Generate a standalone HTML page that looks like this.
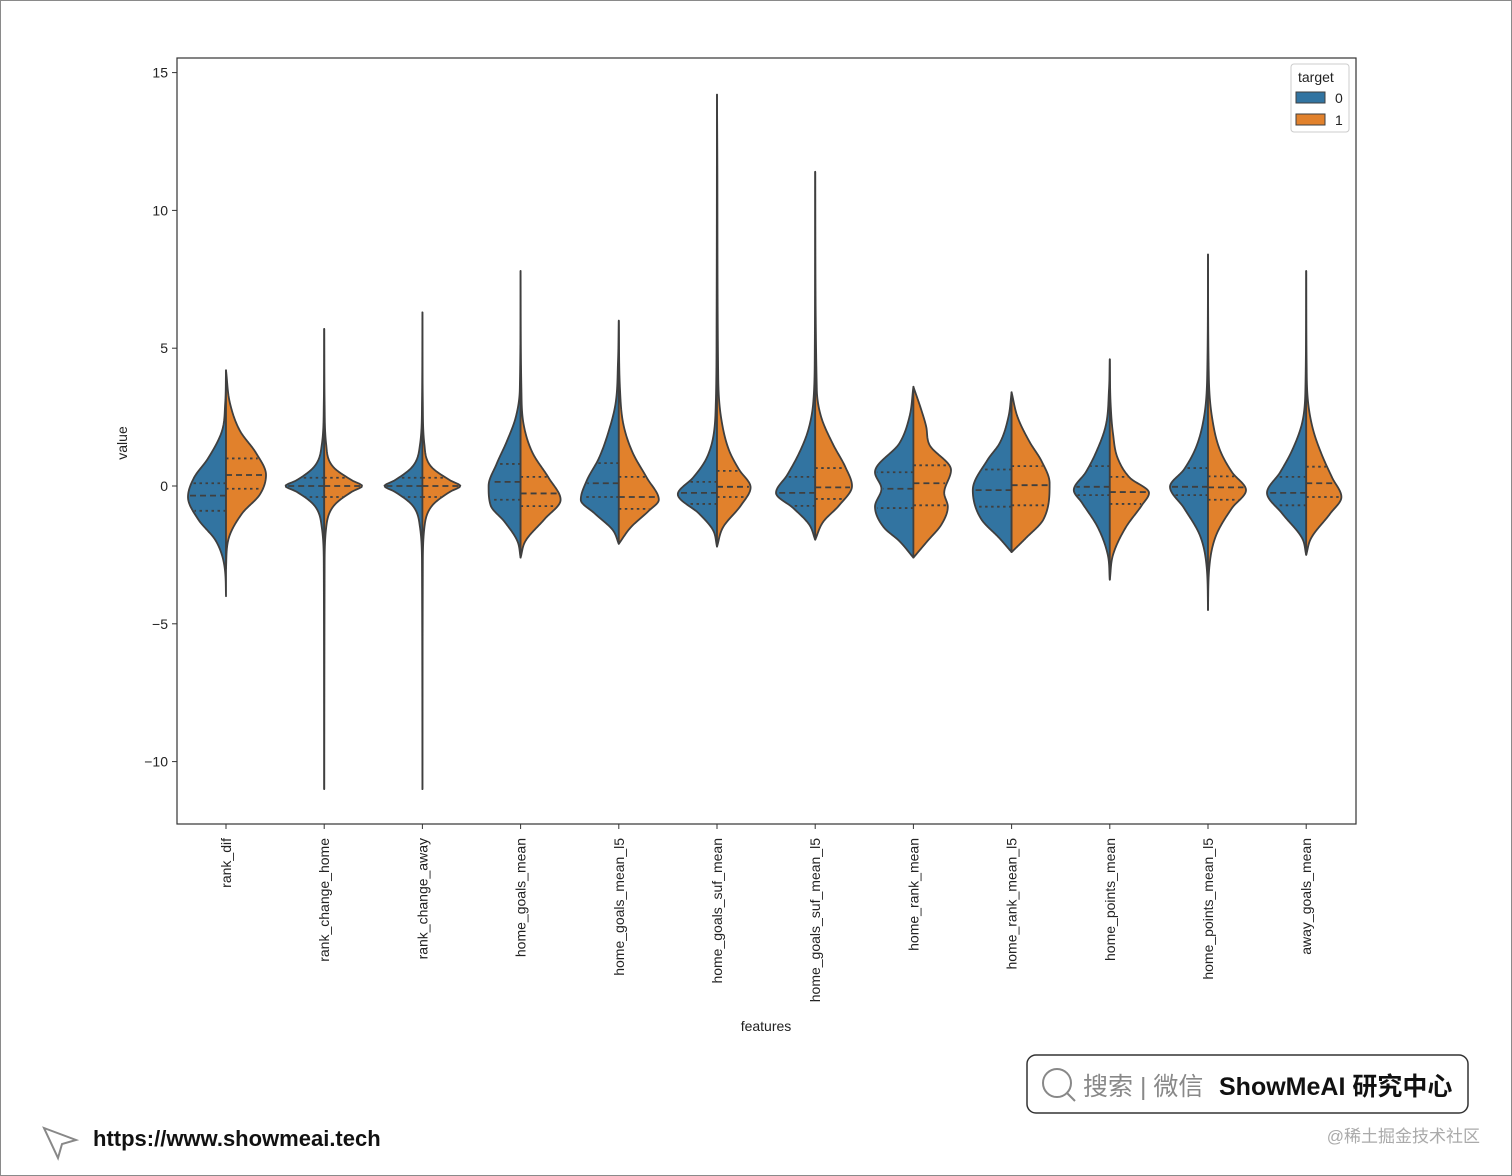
<!DOCTYPE html>
<html><head><meta charset="utf-8"><style>
body{margin:0;background:#fff}
svg{display:block;font-family:"Liberation Sans","Noto Sans CJK SC",sans-serif}
</style></head><body>
<svg id="chart" width="1512" height="1176" viewBox="0 0 1512 1176" xmlns="http://www.w3.org/2000/svg">
<rect x="0.5" y="0.5" width="1511" height="1175" fill="#fff" stroke="#8a8a8a"/>
<rect x="177" y="58" width="1179" height="766" fill="#fff" stroke="#333" stroke-width="1.2"/>
<g id="yaxis"></g>
<g id="violins"></g>
<g id="xaxis"></g>
<text x="127" y="443" font-size="14" fill="#222" text-anchor="middle" transform="rotate(-90 127 443)">value</text>
<text x="766" y="1031" font-size="14" fill="#222" text-anchor="middle">features</text>
<g>
<rect x="1291" y="64" width="58" height="68" rx="3" fill="#fff" stroke="#ccc"/>
<text x="1298" y="82" font-size="14" fill="#222">target</text>
<rect x="1296" y="92" width="29" height="11" fill="#3274a1" stroke="#3f3f3f"/>
<text x="1335" y="103" font-size="14" fill="#222">0</text>
<rect x="1296" y="114" width="29" height="11" fill="#e1812c" stroke="#3f3f3f"/>
<text x="1335" y="125" font-size="14" fill="#222">1</text>
</g>
<g>
<rect x="1027" y="1055" width="441" height="58" rx="9" fill="#fff" stroke="#333" stroke-width="1.5"/>
<circle cx="1057" cy="1083" r="14" fill="none" stroke="#888" stroke-width="2"/>
<line x1="1067" y1="1093" x2="1075" y2="1101" stroke="#888" stroke-width="2"/>
<text x="1083" y="1095" font-size="25" fill="#888">搜索 | 微信</text>
<text x="1219" y="1095" font-size="25" font-weight="bold" fill="#111">ShowMeAI 研究中心</text>
</g>
<g>
<path d="M44 1128 L76 1140 L62 1144 L58 1158 Z" fill="none" stroke="#888" stroke-width="2"/>
<text x="93" y="1146" font-size="22" font-weight="bold" fill="#111">https://www.showmeai.tech</text>
</g>
<text x="1480" y="1142" font-size="17" fill="#aaa" text-anchor="end">@稀土掘金技术社区</text>
</svg>
<script>
const categories=["rank_dif","rank_change_home","rank_change_away","home_goals_mean","home_goals_mean_l5","home_goals_suf_mean","home_goals_suf_mean_l5","home_rank_mean","home_rank_mean_l5","home_points_mean","home_points_mean_l5","away_goals_mean"];
const yTicks=[-10,-5,0,5,10,15];
// density knots [value, relative density] for target 0 and target 1
const dens0=[
[[-4,0],[-3,0.03],[-2,0.25],[-1.2,0.7],[-0.4,0.95],[0.3,0.8],[1,0.45],[2,0.1],[3,0.02],[4.2,0]],
[[-11,0],[-3,0.01],[-1.5,0.06],[-0.7,0.25],[-0.2,0.7],[0,0.97],[0.2,0.7],[0.7,0.25],[1.5,0.06],[3,0.01],[5.7,0]],
[[-11,0],[-3,0.01],[-1.5,0.06],[-0.7,0.25],[-0.2,0.7],[0,0.95],[0.2,0.7],[0.7,0.25],[1.5,0.06],[3,0.01],[6.3,0]],
[[-2.6,0],[-2,0.08],[-1.3,0.4],[-0.7,0.75],[0,0.8],[0.8,0.6],[1.6,0.35],[2.5,0.12],[3.5,0.02],[7.8,0]],
[[-2.1,0],[-1.6,0.15],[-1,0.6],[-0.5,0.95],[0.2,0.8],[1,0.5],[2,0.25],[3,0.08],[4.5,0.02],[6,0]],
[[-2.2,0],[-1.6,0.1],[-1,0.45],[-0.3,0.98],[0.3,0.6],[0.9,0.3],[1.6,0.12],[3,0.03],[6,0.01],[14.2,0]],
[[-1.95,0],[-1.4,0.15],[-0.8,0.55],[-0.25,0.98],[0.4,0.7],[1.2,0.4],[2,0.18],[3,0.05],[5,0.01],[11.4,0]],
[[-2.6,0],[-2,0.35],[-1.5,0.74],[-0.75,0.96],[-0.1,0.8],[0.5,0.96],[1.55,0.35],[2.5,0.1],[3.6,0]],
[[-2.4,0],[-1.9,0.3],[-1.2,0.76],[-0.15,0.97],[0.95,0.6],[1.55,0.3],[2.5,0.08],[3.4,0]],
[[-3.4,0],[-2.5,0.05],[-1.5,0.3],[-0.6,0.7],[-0.15,0.9],[0.5,0.6],[1.2,0.35],[2.2,0.1],[3.5,0.02],[4.6,0]],
[[-4.5,0],[-3,0.03],[-1.8,0.2],[-0.8,0.6],[-0.03,0.95],[0.6,0.6],[1.4,0.3],[2.5,0.1],[4,0.02],[8.4,0]],
[[-2.5,0],[-1.9,0.1],[-1,0.6],[-0.25,0.98],[0.5,0.65],[1.3,0.35],[2.3,0.1],[3.5,0.02],[7.8,0]]
];
const dens1=[
[[-3,0],[-2,0.05],[-1,0.4],[-0.3,0.85],[0.4,1.0],[1.2,0.75],[2,0.35],[3,0.1],[4.2,0]],
[[-11,0],[-3,0.01],[-1.5,0.05],[-0.7,0.25],[-0.2,0.7],[0,0.95],[0.2,0.7],[0.7,0.22],[1.5,0.05],[3,0.01],[5.7,0]],
[[-11,0],[-3,0.01],[-1.5,0.05],[-0.7,0.25],[-0.2,0.7],[0,0.95],[0.2,0.7],[0.7,0.22],[1.5,0.05],[3,0.01],[6.3,0]],
[[-2.6,0],[-2,0.12],[-1.2,0.6],[-0.5,1.0],[0.3,0.7],[1.2,0.3],[2.2,0.08],[3.5,0.02],[7.8,0]],
[[-2.1,0],[-1.5,0.3],[-0.9,0.75],[-0.5,1.0],[0.3,0.7],[1.2,0.35],[2.2,0.12],[3.5,0.03],[6,0]],
[[-2.2,0],[-1.5,0.15],[-0.7,0.6],[-0.05,0.84],[0.6,0.55],[1.3,0.3],[2.5,0.1],[4,0.03],[11,0.01],[14.2,0]],
[[-1.95,0],[-1.3,0.2],[-0.7,0.6],[0,0.92],[0.7,0.75],[1.5,0.45],[2.5,0.15],[3.5,0.04],[11.4,0]],
[[-2.6,0],[-2,0.35],[-1.4,0.7],[-0.75,0.86],[-0.25,0.77],[0.58,0.94],[1.5,0.4],[2.15,0.32],[2.75,0.2],[3.6,0]],
[[-2.4,0],[-1.9,0.35],[-1.2,0.8],[0.1,0.95],[0.9,0.75],[1.6,0.45],[2.5,0.15],[3.4,0]],
[[-3.4,0],[-2.5,0.08],[-1.5,0.4],[-0.7,0.8],[-0.25,0.98],[0.3,0.5],[1,0.2],[1.9,0.08],[3,0.02],[4.6,0]],
[[-4.5,0],[-3,0.03],[-1.8,0.2],[-0.8,0.6],[-0.15,0.95],[0.5,0.6],[1.3,0.3],[2.5,0.1],[4,0.02],[8.4,0]],
[[-2.5,0],[-1.9,0.12],[-1,0.6],[-0.4,0.88],[0.3,0.65],[1.1,0.4],[2,0.18],[3,0.05],[4.5,0.01],[7.8,0]]
];
const quart0=[[-0.9,-0.35,0.1],[-0.4,0,0.3],[-0.4,0,0.3],[-0.5,0.15,0.8],[-0.4,0.1,0.83],[-0.65,-0.25,0.15],[-0.72,-0.25,0.33],[-0.8,-0.1,0.5],[-0.75,-0.15,0.6],[-0.33,-0.03,0.72],[-0.33,-0.03,0.65],[-0.7,-0.25,0.33]];
const quart1=[[-0.1,0.4,1.0],[-0.4,0,0.3],[-0.4,0,0.3],[-0.73,-0.27,0.33],[-0.83,-0.4,0.33],[-0.4,-0.03,0.55],[-0.47,-0.05,0.65],[-0.7,0.1,0.75],[-0.7,0.03,0.72],[-0.65,-0.22,0.33],[-0.5,-0.05,0.35],[-0.4,0.1,0.7]];

const NS="http://www.w3.org/2000/svg";
const plotL=177,plotR=1356,yTop=58,yBot=824;
const yScale=v=>486-v*27.56;
const xScale=i=>226+i*98.2;
const halfW=40;
function mk(tag,attrs,parent){const e=document.createElementNS(NS,tag);for(const k in attrs)e.setAttribute(k,attrs[k]);parent.appendChild(e);return e;}
const ya=document.getElementById('yaxis');
yTicks.forEach(t=>{
  const y=yScale(t);
  const l=mk('line',{x1:plotL-5,x2:plotL,y1:y,y2:y,stroke:'#333'},ya);
  
  
  const tx=mk('text',{x:plotL-9,y:y+5,'font-size':14,fill:'#222','text-anchor':'end'},ya);
  tx.textContent=t<0?'\u2212'+Math.abs(t):String(t);
  
  
});
const xa=document.getElementById('xaxis');
categories.forEach((c,i)=>{
  const x=xScale(i);
  const l=mk('line',{x1:x,x2:x,y1:yBot,y2:yBot+5,stroke:'#333'},xa);
  
  
  const tx=mk('text',{x:x+5,y:yBot+14,'font-size':14,fill:'#222','text-anchor':'end',transform:`rotate(-90 ${x+5} ${yBot+14})`},xa);
  tx.textContent=c;
  
  
});
// monotone cubic (Fritsch-Carlson) interpolation of width as a function of value
function monoFn(kn){
  const n=kn.length,xs=kn.map(k=>k[0]),ys=kn.map(k=>k[1]);
  const d=[],m=[];
  for(let i=0;i<n-1;i++)d.push((ys[i+1]-ys[i])/(xs[i+1]-xs[i]));
  m[0]=d[0];m[n-1]=d[n-2];
  for(let i=1;i<n-1;i++){m[i]=(d[i-1]*d[i]<=0)?0:(d[i-1]+d[i])/2;}
  for(let i=0;i<n-1;i++){
    if(d[i]===0){m[i]=0;m[i+1]=0;continue;}
    const a=m[i]/d[i],b=m[i+1]/d[i],s=a*a+b*b;
    if(s>9){const t=3/Math.sqrt(s);m[i]=t*a*d[i];m[i+1]=t*b*d[i];}
  }
  return v=>{
    if(v<=xs[0]||v>=xs[n-1])return 0;
    let i=0;while(v>xs[i+1])i++;
    const h=xs[i+1]-xs[i],t=(v-xs[i])/h,t2=t*t,t3=t2*t;
    return Math.max(0,(2*t3-3*t2+1)*ys[i]+(t3-2*t2+t)*h*m[i]+(-2*t3+3*t2)*ys[i+1]+(t3-t2)*h*m[i+1]);
  };
}
const vg=document.getElementById('violins');
categories.forEach((c,i)=>{
  const cx=xScale(i);
  [[dens0[i],quart0[i],-1,'#3274a1','violin-half-0'],[dens1[i],quart1[i],1,'#e1812c','violin-half-1']].forEach(([kn,q,s,col,nm])=>{
    const f=monoFn(kn);
    const lo=kn[0][0],hi=kn[kn.length-1][0];
    const N=300;
    let d=`M${cx} ${yScale(lo)}`;
    for(let k=1;k<=N;k++){const v=lo+(hi-lo)*k/N;d+=` L${(cx+s*f(v)*halfW).toFixed(2)} ${yScale(v).toFixed(2)}`;}
    d+=' Z';
    const p=mk('path',{d:d,fill:col,stroke:'#3f3f3f','stroke-width':1.8,'stroke-linejoin':'round'},vg);
    
    
    q.forEach((qv,j)=>{
      const w=f(qv)*halfW*0.95;
      const y=yScale(qv);
      const l=mk('line',{x1:cx,x2:cx+s*w,y1:y,y2:y,stroke:'#3f3f3f','stroke-width':1.8,'stroke-dasharray':j===1?'6 4':'2.5 3.5'},vg);
      
      
    });
  });
});
</script>
</body></html>
